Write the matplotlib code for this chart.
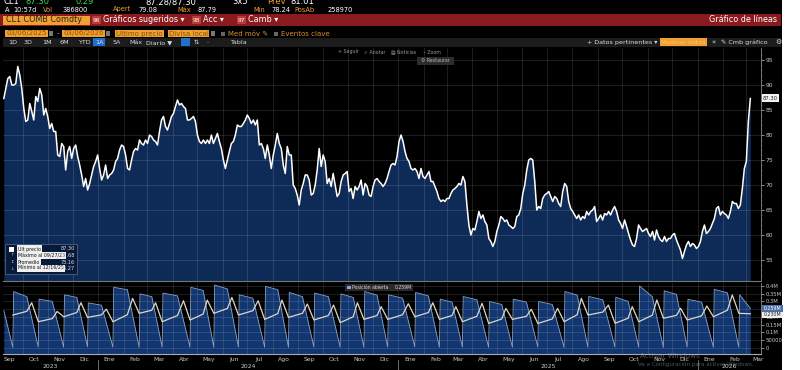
import matplotlib
matplotlib.use('Agg')
import matplotlib.pyplot as plt
from matplotlib.patches import Rectangle
import matplotlib.transforms as mtransforms
import pandas as pd

W, H = 800, 370
plt.rcParams['font.family'] = ['DejaVu Sans']

# ---------------- data ----------------
price = [
    87.3, 89.3, 91.3, 91.7, 90.0, 90.0, 90.3, 93.7, 92.0, 89.3,
    85.3, 82.7, 83.0, 86.3, 84.7, 83.0, 87.7, 86.7, 89.3, 88.0,
    84.0, 85.3, 83.7, 81.3, 82.3, 80.7, 80.7, 76.0, 75.7, 78.3,
    77.7, 73.0, 76.7, 77.7, 75.3, 77.3, 78.0, 75.7, 74.0, 72.0,
    69.7, 71.3, 69.0, 70.3, 72.0, 73.7, 74.7, 76.0, 73.3, 71.0,
    72.0, 74.0, 71.3, 72.0, 72.3, 73.0, 74.7, 75.3, 77.0, 78.0,
    77.7, 76.0, 73.3, 73.0, 75.0, 76.7, 77.3, 77.0, 79.0, 78.3,
    78.0, 79.0, 78.3, 80.0, 79.7, 79.0, 78.7, 78.0, 80.7, 83.0,
    83.7, 81.7, 81.0, 82.3, 83.7, 84.3, 85.7, 87.0, 86.0, 86.3,
    85.7, 85.3, 83.0, 83.0, 83.3, 83.7, 82.7, 80.0, 78.7, 78.3,
    79.0, 78.3, 79.0, 78.3, 80.0, 78.3, 79.3, 80.3, 78.7, 77.3,
    75.0, 73.3, 75.0, 76.7, 78.3, 78.7, 80.0, 82.0, 81.7, 81.7,
    82.3, 83.0, 84.0, 83.3, 82.3, 83.0, 82.0, 83.0,
    78.0, 78.3, 77.3, 75.3, 78.0, 76.0, 73.3, 76.0, 78.0, 80.3,
    78.3, 77.3, 74.0, 72.3, 77.7, 76.0, 76.0, 70.0, 69.3, 68.0,
    66.0, 69.0, 70.3, 72.0, 72.0, 71.0, 68.0, 68.3, 70.0, 73.0,
    77.3, 73.7, 76.0, 74.7, 70.3, 71.3, 69.7, 72.3, 70.0, 67.7,
    68.3, 70.7, 72.0, 72.3, 72.7, 68.7, 69.3, 67.3, 69.7, 69.0,
    69.7, 71.0, 68.0, 70.3, 69.7, 68.0, 67.7, 69.7, 71.0, 71.3,
    70.7, 70.3, 69.7, 70.3, 71.3, 72.7, 74.0, 74.3, 74.0, 75.7,
    78.7, 80.0, 78.7, 76.7, 75.3, 74.7, 73.3, 73.0, 73.3, 72.7,
    71.3, 73.3, 71.7, 71.3, 72.0, 72.7, 70.7, 70.7, 69.7, 68.7,
    67.3, 66.7, 67.0, 66.7, 67.3, 67.3, 68.3, 69.0, 69.3, 69.7,
    70.3, 70.0, 71.7, 70.7, 66.0, 62.0, 60.0, 61.3, 61.0, 62.7,
    64.7, 63.3, 64.0, 62.7, 62.0, 59.3, 58.7, 57.7, 58.7, 60.7,
    62.0, 63.7, 63.3, 62.7, 63.0, 62.0, 61.7, 61.3, 61.7,
    63.7, 64.0, 65.3, 68.3, 70.0, 73.0, 75.0, 75.3, 75.0, 70.7,
    65.0, 65.7, 65.3, 67.3, 68.0, 68.3, 68.7, 67.7, 66.7, 67.7,
    67.3, 66.3, 65.7, 68.7, 70.3, 69.7, 66.7, 65.3, 64.7, 64.0,
    63.3, 64.0, 63.0, 63.7, 63.3, 64.7, 64.0, 64.7, 65.0, 65.7,
    62.7, 63.3, 64.0, 63.0, 64.3, 64.0, 64.7, 64.0, 65.0, 65.7,
    64.7, 63.0, 62.3, 61.3, 63.0, 61.7, 60.3, 59.0, 58.0, 57.7,
    59.3, 62.0, 61.3, 60.7, 61.0, 61.3, 60.3, 59.7, 60.7, 59.0,
    61.0, 59.7, 59.0, 58.7, 59.7, 58.7, 59.3, 59.3, 60.0, 60.3,
    59.0, 58.0, 57.0, 55.3, 56.7, 58.0, 58.7, 57.7, 58.3, 58.0,
    57.3, 57.7, 58.7, 60.7, 62.0, 60.3, 60.7, 61.3, 62.3, 63.3,
    65.3, 65.7, 64.0, 64.7, 64.3, 64.0, 63.3, 64.7, 66.7, 66.3,
    66.3, 65.3, 66.0, 69.3, 73.3, 74.7, 82.7, 87.3,
]
price_start, price_end = '2023-09-08', '2026-03-06'

# open interest (millions): contract roll dates and values at each cycle
roll_dates = ['2023-09-19', '2023-10-20', '2023-11-20', '2023-12-19', '2024-01-19',
              '2024-02-20', '2024-03-19', '2024-04-22', '2024-05-21', '2024-06-20',
              '2024-07-22', '2024-08-20', '2024-09-20', '2024-10-22', '2024-11-20',
              '2024-12-19', '2025-01-21', '2025-02-20', '2025-03-20', '2025-04-21',
              '2025-05-20', '2025-06-20', '2025-07-22', '2025-08-20', '2025-09-22',
              '2025-10-21', '2025-11-20', '2025-12-19', '2026-01-20', '2026-02-20']
oi_start = 0.24
oi_trough = [0.004, 0.006, 0.005, 0.008, 0.005, 0.004, 0.006, 0.005, 0.004, 0.006,
             0.005, 0.004, 0.006, 0.005, 0.004, 0.006, 0.008, 0.005, 0.006, 0.004,
             0.005, 0.006, 0.004, 0.005, 0.006, 0.005, 0.004, 0.006, 0.005, 0.004]
oi_peak = [0.363, 0.314, 0.342, 0.290, 0.390, 0.348, 0.353, 0.390, 0.405, 0.342,
           0.396, 0.357, 0.353, 0.348, 0.363, 0.342, 0.357, 0.314, 0.331, 0.299,
           0.314, 0.299, 0.363, 0.331, 0.326, 0.399, 0.368, 0.313, 0.377, 0.342]
oi_shoulder = [0.330, 0.300, 0.325, 0.275, 0.375, 0.330, 0.335, 0.370, 0.380, 0.320,
               0.375, 0.330, 0.330, 0.325, 0.340, 0.320, 0.335, 0.295, 0.310, 0.280,
               0.295, 0.280, 0.340, 0.310, 0.300, 0.330, 0.345, 0.295, 0.355]
oi_end = 0.255
oi2_low = [0.212, 0.169, 0.201, 0.197, 0.169, 0.223, 0.169, 0.180, 0.223, 0.212,
           0.184, 0.197, 0.180, 0.163, 0.184, 0.184, 0.201, 0.184, 0.169, 0.158,
           0.184, 0.158, 0.169, 0.212, 0.159, 0.169, 0.191, 0.180, 0.201, 0.223]
oi2_mid = [0.236, 0.189, 0.228, 0.213, 0.214, 0.243, 0.209, 0.218, 0.254, 0.240,
           0.221, 0.223, 0.209, 0.201, 0.209, 0.214, 0.228, 0.209, 0.204, 0.187,
           0.204, 0.187, 0.214, 0.231, 0.191, 0.211, 0.210, 0.207, 0.243]
oi2_peak = [0.291, 0.235, 0.291, 0.250, 0.319, 0.291, 0.304, 0.308, 0.325, 0.304,
            0.308, 0.283, 0.276, 0.291, 0.266, 0.285, 0.291, 0.266, 0.287, 0.255,
            0.249, 0.255, 0.319, 0.276, 0.266, 0.309, 0.255, 0.270, 0.341]
oi2_end = 0.22

month_labels = ['Sep', 'Oct', 'Nov', 'Dic', 'Ene', 'Feb', 'Mar', 'Abr', 'May', 'Jun',
                'Jul', 'Ago', 'Sep', 'Oct', 'Nov', 'Dic', 'Ene', 'Feb', 'Mar', 'Abr',
                'May', 'Jun', 'Jul', 'Ago', 'Sep', 'Oct', 'Nov', 'Dic', 'Ene', 'Feb', 'Mar']
year_labels = ['2023', '2024', '2025', '2026']
price_ticks = [55, 60, 65, 70, 75, 80, 85, 90, 95]
oi_ticks = [0, 0.05, 0.10, 0.15, 0.20, 0.25, 0.30, 0.35, 0.40]
oi_tick_labels = ['0', '50000', '0.1M', '0.15M', '0.2M', '0.25M', '0.3M', '0.35M', '0.4M']
legend_labels = ['Últ precio', 'Máximo al 09/27/23', 'Promedio', 'Mínimo al 12/16/25']
legend_values = ['87.30', '93.68', '73.16', '55.27']
last_price_label = '87.30'
oi_last_labels = ['0.259M', '0.230M']

# ---------------- figure ----------------
fig = plt.figure(figsize=(W / 100, H / 100), dpi=100, facecolor='black')


def fx(x):
    return x / W


def fy(y):
    return 1 - y / H


def T(x, y, s, color='white', size=5.0, ha='left', va='center', **kw):
    return fig.text(fx(x), fy(y), s, color=color, fontsize=size, ha=ha, va=va, **kw)


def R(x0, y0, x1, y1, color, z=1, ec='none', lw=0.0):
    fig.add_artist(Rectangle((fx(x0), fy(y1)), (x1 - x0) / W, (y1 - y0) / H,
                             transform=fig.transFigure, facecolor=color,
                             edgecolor=ec, lw=lw, zorder=z))


# white strip on the right
R(782, 0, 800, 370, 'white', z=20)

ORANGE = '#f0a030'
# row 0 (cut off at the top edge, as in the screenshot)
for x, s, c in [(3, 'CL1', 'white'), (25, '87.30', '#39d353'), (76, '0.29', '#39d353'),
                (145, '87.28/87.30', 'white'), (232, '3x5', 'white'),
                (267, 'Prev', ORANGE), (290, '81.01', 'white')]:
    T(x, 1.8, s, color=c, size=6)
# row 1
for x, s, c in [(5, 'A', 'white'), (13, '10:57d', 'white'), (43, 'Vol', ORANGE),
                (63, '386800', 'white'), (113, 'Apert', ORANGE), (138, '79.08', 'white'),
                (177, 'Máx', ORANGE), (197, '87.79', 'white'), (253, 'Mín', ORANGE),
                (271, '78.24', 'white'), (294, 'PosAb', ORANGE), (328, '258970', 'white')]:
    T(x, 9.5, s, color=c, size=4.8)
# row 2 red bar
R(0, 14.5, 781, 25.5, '#8a1a1e')
R(3, 15.5, 90, 24.5, ORANGE)
T(6, 20, 'CL1 COMB Comdty', color='#222222', size=5.8)
for bx, num, lab in [(92, '96', 'Gráficos sugeridos ▾'), (192, '98', 'Acc ▾'), (237, '97', 'Camb ▾')]:
    R(bx, 16.5, bx + 9, 23.5, '#b83a3a')
    T(bx + 4.5, 20, num, size=4.2, ha='center')
    T(bx + 11, 20, lab, size=5.8)
T(777, 20, 'Gráfico de líneas', size=5.8, ha='right')
# row 3
DARKOR = '#8a5200'
R(5, 30, 48, 37, ORANGE); T(26.5, 33.5, '03/06/2025', color=DARKOR, size=5, ha='center')
R(49, 31, 53, 36, '#777777')
T(57, 33.5, '-', color='#cccccc', size=5)
R(62, 30, 105, 37, ORANGE); T(83.5, 33.5, '03/06/2026', color=DARKOR, size=5, ha='center')
R(106, 31, 110, 36, '#777777')
R(115, 30, 164, 37, ORANGE); T(139.5, 33.5, 'Último precio', color=DARKOR, size=5, ha='center')
R(168, 30, 209, 37, ORANGE); T(188.5, 33.5, 'Divisa local', color=DARKOR, size=5, ha='center')
R(211, 31, 215, 36, '#777777')
R(221, 31.5, 225, 35.5, '#666666'); T(228, 33.5, 'Med móv ✎', color='#d89030', size=5)
R(274, 31.5, 278, 35.5, '#666666'); T(281, 33.5, 'Eventos clave', color='#d89030', size=5)
# row 4 toolbar
R(3, 37.5, 781, 47, '#1c1c1c')
R(93, 38.5, 105, 46, '#1f6fd0')
for x, s in [(8, '1D'), (24, '3D'), (42, '1M'), (60, '6M'), (78, 'YTD'), (95, '1A'),
             (113, '5A'), (129, 'Máx'), (146, 'Diario ▼'), (194, '⇅'), (206, '·'), (230, 'Tabla')]:
    T(x, 42.3, s, color='#dddddd', size=4.6)
R(181, 38.5, 190, 46, '#1f6fd0')
T(587, 42.3, '+ Datos pertinentes ▾', color='#dddddd', size=4.6)
R(660, 38.5, 707, 46, ORANGE); T(683.5, 42.3, 'Mostrar datos', color='#f8c070', size=4.6, ha='center')
T(712, 42.3, '«', color='#dddddd', size=5)
T(721, 42.3, '✎ Cmb gráfico', color='#dddddd', size=4.6)
T(775, 42.3, '⚙', color='#dddddd', size=5)

# ---------------- price panel ----------------
dates = pd.date_range(price_start, price_end, periods=len(price))
xmin, xmax = pd.Timestamp('2023-09-07'), pd.Timestamp('2026-03-19')
month_starts = pd.date_range('2023-10-01', '2026-03-01', freq='MS')
GRID = dict(color='#ffffff', alpha=0.14, lw=0.6, zorder=2)

ax1 = fig.add_axes([fx(3), fy(281), (761 - 3) / W, (281 - 48) / H])
ax1.set_facecolor('black')
ax1.fill_between(dates, price, 40, color='#0e2a57', lw=0, zorder=1)
ax1.plot(dates, price, color='white', lw=1.1, zorder=3)
for d in month_starts:
    ax1.axvline(d, **GRID)
for v in price_ticks:
    ax1.axhline(v, **GRID)
ax1.set_xlim(xmin, xmax)
ax1.set_ylim(50.8, 97.4)
ax1.set_xticks([])
ax1.yaxis.tick_right()
ax1.set_yticks(price_ticks)
ax1.set_yticks(range(52, 97), minor=True)
ax1.tick_params(axis='y', which='major', colors='#c8c8c8', labelsize=4.3, length=2, width=0.5, pad=1)
ax1.tick_params(axis='y', which='minor', colors='#888888', length=1, width=0.4)
for s in ['top', 'left']:
    ax1.spines[s].set_visible(False)
ax1.spines['right'].set_color('#888888'); ax1.spines['right'].set_linewidth(0.6)
ax1.spines['bottom'].set_color('#777777'); ax1.spines['bottom'].set_linewidth(0.8)

# chart tool labels
for x, s in [(338, '+ Seguir'), (364, '✓ Anotar'), (391, '▤ Noticias'), (423, '◦ Zoom')]:
    T(x, 52, s, color='#9a9a9a', size=3.4, zorder=10)
R(417, 57, 454, 64.5, '#2c2c2c', z=9)
T(435.5, 60.8, '⚙ Restaurar', color='#bbbbbb', size=3.4, ha='center', zorder=10)

# last price label
R(762, 94.5, 779, 101.5, '#f2f2f2', z=21)
T(770.5, 98, last_price_label, color='#222222', size=3.8, ha='center', zorder=22)

# legend box
R(5, 244, 77, 274, '#081a3a', z=9, ec='#50607f', lw=0.6)
R(9, 246.5, 14, 251.5, 'white', z=10)
rows_y = [249, 255.5, 262, 268.5]
marks = ['', '↑', '↕', '↓']
for yy, lab, val, mk in zip(rows_y, legend_labels, legend_values, marks):
    if mk:
        T(11.5, yy, mk, color='#cccccc', size=3.2, ha='center', zorder=11)
    T(18, yy, lab, color='#111111', size=3.4, zorder=11,
      bbox=dict(boxstyle='square,pad=0.15', fc='#f0f0f0', ec='none'))
    T(75, yy, val, color='#e0e0e0', size=3.6, ha='right', zorder=11)

# ---------------- open-interest panel ----------------
rd = pd.to_datetime(roll_dates)
end_date = pd.Timestamp(price_end)
oi_x, oi_y = [pd.Timestamp(price_start)], [oi_start]
for i, t0 in enumerate(rd):
    t1 = rd[i + 1] if i + 1 < len(rd) else end_date
    oi_x += [t0, t0 + pd.Timedelta(days=1)]
    oi_y += [oi_trough[i], oi_peak[i]]
    if i < len(oi_shoulder):
        oi_x.append(t0 + (t1 - t0) * 0.55)
        oi_y.append(oi_shoulder[i])
oi_x.append(end_date); oi_y.append(oi_end)

l_x, l_y = [], []
for i, t0 in enumerate(rd):
    l_x.append(t0); l_y.append(oi2_low[i])
    if i < len(oi2_peak):
        t1 = rd[i + 1]
        l_x += [t0 + (t1 - t0) * 0.55, t1 - pd.Timedelta(days=8)]
        l_y += [oi2_mid[i], oi2_peak[i]]
l_x.append(end_date); l_y.append(oi2_end)

ax2 = fig.add_axes([fx(3), fy(354), (761 - 3) / W, (354 - 283) / H])
ax2.set_facecolor('black')
ax2.fill_between(oi_x, oi_y, -0.2, color='#123670', lw=0, zorder=1)
ax2.plot(oi_x, oi_y, color='#8aa4d0', lw=0.6, zorder=3)
ax2.plot(l_x, l_y, color='#ddd7c8', lw=0.9, zorder=4)
for d in month_starts:
    ax2.axvline(d, **GRID)
for v in oi_ticks:
    ax2.axhline(v, **GRID)
ax2.set_xlim(xmin, xmax)
ax2.set_ylim(-0.0386, 0.418)
ax2.yaxis.tick_right()
ax2.set_yticks(oi_ticks)
ax2.set_yticklabels(oi_tick_labels)
ax2.tick_params(axis='y', colors='#c8c8c8', labelsize=3.8, length=2, width=0.5, pad=1)
mid_months = pd.date_range('2023-09-01', '2026-03-01', freq='MS') + pd.Timedelta(days=14)
ax2.set_xticks(mid_months)
ax2.set_xticklabels(month_labels)
ax2.tick_params(axis='x', colors='#c8c8c8', labelsize=4.4, length=0, pad=2)
for s in ['top', 'left']:
    ax2.spines[s].set_visible(False)
ax2.spines['right'].set_color('#888888'); ax2.spines['right'].set_linewidth(0.6)
ax2.spines['bottom'].set_color('#aaaaaa'); ax2.spines['bottom'].set_linewidth(0.8)

# year labels and separators
trans = mtransforms.blended_transform_factory(ax2.transData, ax2.transAxes)
year_spans = [(xmin, pd.Timestamp('2024-01-01')),
              (pd.Timestamp('2024-01-01'), pd.Timestamp('2025-01-01')),
              (pd.Timestamp('2025-01-01'), pd.Timestamp('2026-01-01')),
              (pd.Timestamp('2026-01-01'), xmax)]
for lab, (a, b) in zip(year_labels, year_spans):
    ax2.text(a + (b - a) / 2, -0.17, lab, transform=trans, color='#c8c8c8',
             fontsize=4.4, ha='center', va='center', clip_on=False)
for a, b in year_spans[1:]:
    ax2.plot([a, a], [-0.09, -0.24], transform=trans, color='#999999', lw=0.5, clip_on=False)

# OI legend and last-value labels
R(345, 284, 413, 290.5, '#2a2a2a', z=9)
R(347, 285.5, 351, 289, '#8aa4d0', z=10)
T(352.5, 287.2, 'Posición abierta', color='#dddddd', size=3.3, zorder=11)
T(412, 287.2, oi_last_labels[0], color='#dddddd', size=3.3, ha='right', zorder=11)
R(762, 305, 783, 311.5, '#4b6fa8', z=21)
T(772.5, 308.2, oi_last_labels[0], color='white', size=3.4, ha='center', zorder=22)
R(762, 311.5, 783, 317.5, '#eeeeee', z=21)
T(772.5, 314.5, oi_last_labels[1], color='#222222', size=3.4, ha='center', zorder=22)

# faint OS watermark
T(640, 356, 'Activar Windows', color='#bbbbbb', size=5.2, alpha=0.45, zorder=12)
T(638, 364.5, 'Ve a Configuración para activar Windows.', color='#bbbbbb', size=4.0, alpha=0.45, zorder=12)

fig.savefig('out.png', dpi=100, facecolor='black')
